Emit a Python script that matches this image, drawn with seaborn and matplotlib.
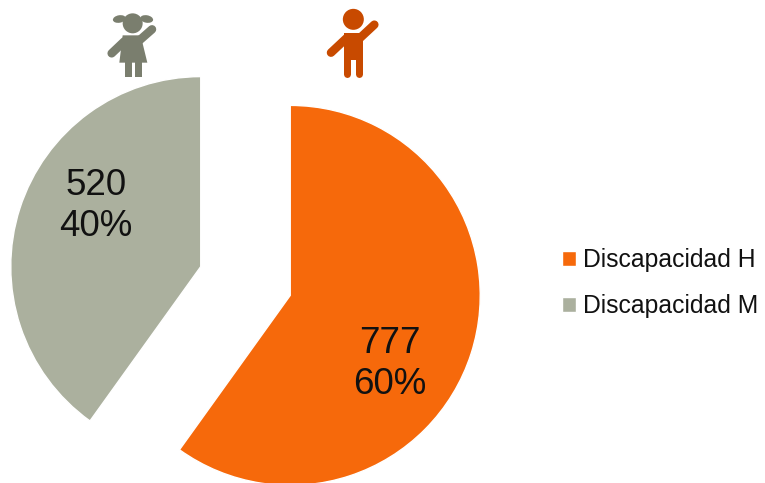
import matplotlib
matplotlib.use("Agg")
import matplotlib.pyplot as plt
import seaborn as sns
from matplotlib.patches import Circle, Ellipse, Polygon

categories = ["Discapacidad H", "Discapacidad M"]
values = [777, 520]
percents = ["60%", "40%"]
palette = ["#F6690B", "#ABB09E"]
boy_color = "#C84A00"
girl_color = "#7A7E6E"

sns.set_theme(style="white")
plt.rcParams["font.family"] = ["Liberation Sans", "DejaVu Sans"]

W, H = 765, 483
fig = plt.figure(figsize=(W / 100, H / 100), dpi=100, facecolor="white")
ax = fig.add_axes([0, 0, 1, 1])
colors = sns.color_palette(palette)


def py(y):
    return H - y


wedges, _ = ax.pie(
    values,
    colors=colors,
    startangle=90,
    counterclock=False,
    radius=190,
    center=(245.5, py(281)),
    explode=[47, 47],
    frame=True,
)
ax.set_xlim(0, W)
ax.set_ylim(0, H)
ax.set_aspect("equal")
ax.axis("off")

label_pos = [(390, 364), (96, 206)]
for v, p, (x, y) in zip(values, percents, label_pos):
    ax.text(x, py(y), f"{v}\n{p}", ha="center", va="center", fontsize=26.5,
            color="#111111", linespacing=1.22)

ax.legend(wedges, categories, loc="center left",
          bbox_to_anchor=(562 / W, py(283) / H), bbox_transform=ax.transAxes,
          frameon=False, fontsize=17.8, labelspacing=0.88, handlelength=0.57,
          handleheight=0.57, handletextpad=0.28, borderpad=0, borderaxespad=0,
          labelcolor="#111111")


def limb(p0, p1, off, width, color):
    ax.plot([off + p0[0] / 3, off + p1[0] / 3], [py(p0[1] / 3), py(p1[1] / 3)],
            color=color, lw=width * 0.72, solid_capstyle="round", zorder=5)


def poly(pts, off, color):
    ax.add_patch(Polygon([(off + x / 3, py(y / 3)) for x, y in pts], closed=True,
                         color=color, lw=0, zorder=5))


# Boy icon
off = 315
ax.add_patch(Circle((off + 115 / 3, py(58 / 3)), 10.5, color=boy_color, lw=0, zorder=5))
poly([(86, 100), (144, 100), (144, 180), (86, 180)], off, boy_color)
limb((135, 114), (178, 74), off, 8.5, boy_color)
limb((95, 114), (48, 158), off, 8.5, boy_color)
limb((97, 175), (97, 223), off, 7, boy_color)
limb((133, 175), (133, 223), off, 7, boy_color)

# Girl icon
off = 90
ax.add_patch(Circle((off + 128 / 3, py(70 / 3)), 10, color=girl_color, lw=0, zorder=5))
ax.add_patch(Ellipse((off + 88 / 3, py(57 / 3)), 13, 7.5, angle=10, color=girl_color, lw=0, zorder=5))
ax.add_patch(Ellipse((off + 170 / 3, py(57 / 3)), 13, 7.5, angle=-10, color=girl_color, lw=0, zorder=5))
poly([(98, 106), (152, 106), (172, 188), (88, 188)], off, girl_color)
limb((145, 124), (186, 88), off, 8.5, girl_color)
limb((103, 124), (65, 160), off, 8.5, girl_color)
for x0 in (106, 135):
    poly([(x0, 185), (x0 + 20, 185), (x0 + 20, 230), (x0, 230)], off, girl_color)

fig.savefig("out.png", dpi=100, facecolor="white")
